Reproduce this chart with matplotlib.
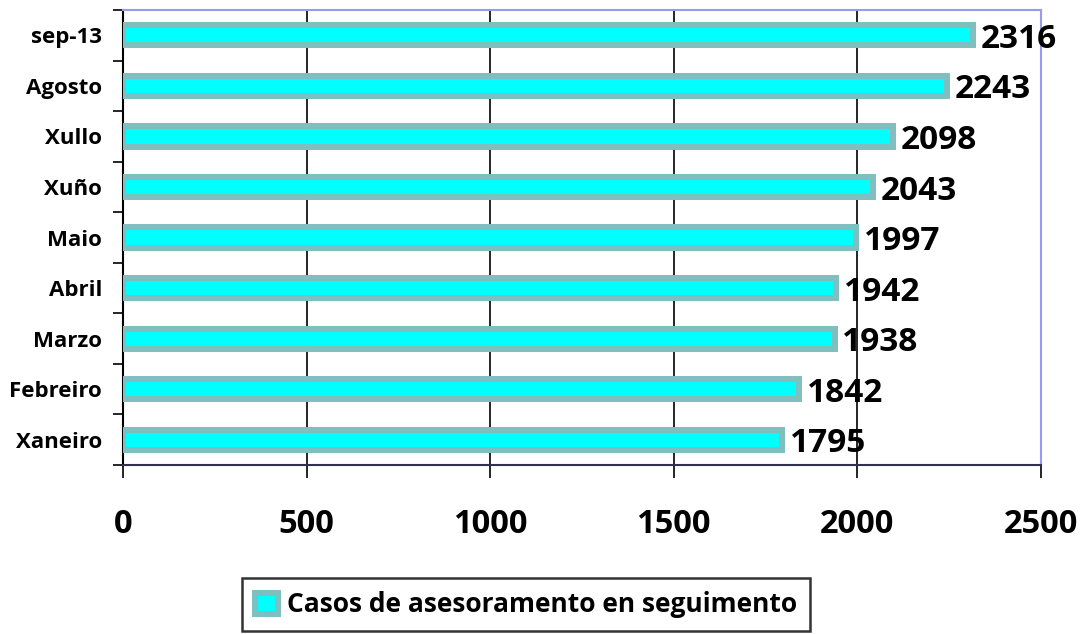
import matplotlib.pyplot as plt
import numpy as np

months = ["Xaneiro", "Febreiro", "Marzo", "Abril", "Maio", "Xuño", "Xullo", "Agosto", "sep-13"]
casos = [1795, 1842, 1938, 1942, 1997, 2043, 2098, 2243, 2316]
xticks = [0, 500, 1000, 1500, 2000, 2500]
series_name = "Casos de asesoramento en seguimento"

plt.rcParams['font.family'] = ['Open Sans', 'DejaVu Sans']
plt.rcParams['font.weight'] = 'bold'

fig = plt.figure(figsize=(10.81, 6.34), dpi=100)
ax = fig.add_axes([123 / 1081, 1 - 465 / 634, (1041 - 123) / 1081, (465 - 10) / 634])

y = np.arange(len(months))
bars = ax.barh(y, casos, height=0.4, color='#00ffff', edgecolor='#7fbfbf',
               linewidth=4.3, label=series_name, zorder=3)

for yi, v in zip(y, casos):
    ax.annotate(str(v), (v, yi), xytext=(5.5, -3), textcoords='offset points',
                ha='left', va='center', fontsize=24, fontweight='bold', zorder=4)

ax.set_xlim(0, 2500)
ax.set_ylim(-0.5, len(months) - 0.5)
ax.set_xticks(xticks)
ax.set_xticklabels([str(t) for t in xticks], fontsize=23.5, fontweight='bold')
ax.tick_params(axis='x', direction='out', length=9, width=1.2, pad=22, color='black')

ax.set_yticks(y)
ax.set_yticklabels(months, fontsize=16, fontweight='bold')
ax.set_yticks(np.arange(-0.5, len(months)), minor=True)
ax.tick_params(axis='y', which='major', length=0, pad=15)
ax.tick_params(axis='y', which='minor', direction='out', length=7, width=1.2, color='black')

ax.grid(axis='x', color='black', linewidth=1.2, zorder=0)
ax.spines['left'].set_color('black')
ax.spines['left'].set_linewidth(1.5)
ax.spines['bottom'].set_color('#303050')
ax.spines['bottom'].set_linewidth(1.5)
ax.spines['top'].set_color('#9999ee')
ax.spines['right'].set_color('#9999ee')
ax.spines['top'].set_linewidth(1.5)
ax.spines['right'].set_linewidth(1.5)
ax.set_axisbelow(True)

leg = fig.legend(handles=[bars], labels=[series_name], loc='upper left',
                 bbox_to_anchor=(242 / 1081, 1 - 578 / 634),
                 prop={'size': 19, 'weight': 'bold'}, frameon=True, fancybox=False,
                 handlelength=0.85, handleheight=0.85, handletextpad=0.35,
                 borderpad=0.5, borderaxespad=0)
leg.get_frame().set_edgecolor('black')
leg.get_frame().set_linewidth(1.8)

fig.savefig('out.png', dpi=100)
